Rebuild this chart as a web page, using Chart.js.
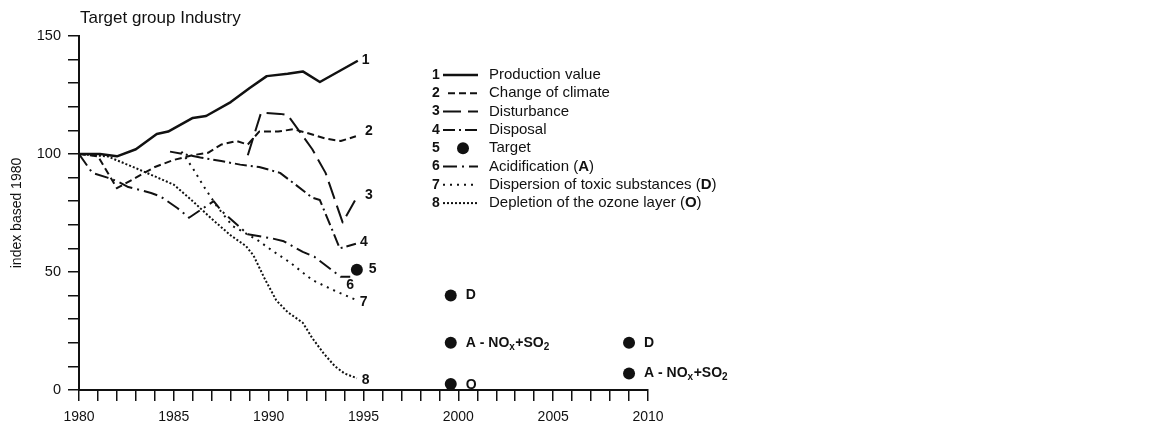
<!DOCTYPE html>
<html><head><meta charset="utf-8">
<script src="https://cdn.jsdelivr.net/npm/chart.js@4.4.1/dist/chart.umd.min.js"></script>
<style>html,body{margin:0;padding:0;background:#fff;}#wrap{width:1156px;height:436px;}</style>
</head><body><div id="wrap"><canvas id="c" width="1156" height="436"></canvas></div>
<script>
// ---------- data (year, index value) ----------
const chartTitle = 'Target group Industry';
const yAxisTitle = 'index based 1980';
const xTickLabels = [1980, 1985, 1990, 1995, 2000, 2005, 2010];
const yTickLabels = [0, 50, 100, 150];

const productionValue = [[1980,100],[1981.1,100],[1982,99],[1983,102],[1984.1,108.5],[1984.7,109.5],[1986,115.3],[1986.7,116.1],[1988,122],[1989,128],[1989.9,133],[1991,134],[1991.8,135],[1992.7,130.5],[1994.7,139.5]];
const changeOfClimate = [[1980,100],[1981,99],[1982,85.5],[1983,90],[1984,94.5],[1985,97.5],[1986,99.5],[1986.8,100.5],[1987.5,104],[1988.3,105.5],[1988.9,104],[1989.5,109.5],[1990.5,109.5],[1991.3,110.5],[1992,109],[1993,106.5],[1993.8,105.5],[1994.6,107.5]];
const disturbance = [[1988.9,99.5],[1989.6,117.5],[1990.6,117],[1991,116.5],[1991.5,111],[1992.3,102],[1993,92],[1993.9,71],[1994.6,81]];
const disposal = [[1984.8,101],[1985.5,100],[1986.4,98.5],[1987.5,97],[1988.5,95.5],[1989.5,94.5],[1990.6,92],[1991.5,86.5],[1992.3,81.5],[1992.7,80.5],[1993.75,60],[1994.6,62]];
const targets = [[1994.65,51],[1999.6,40],[1999.6,20],[1999.6,2.5],[2009,20],[2009,7]];
const targetNotes = ['', 'D', 'A - NO_x+SO_2', 'O', 'D', 'A - NO_x+SO_2'];
const acidification = [[1980,100],[1980.7,92],[1981.5,90],[1982,88.5],[1982.6,86],[1983.8,83.5],[1984.3,82],[1985.2,77],[1985.8,73],[1987.1,80],[1987.5,76],[1988.9,66],[1990.2,64.2],[1990.8,63],[1991.8,58.5],[1992.4,56.5],[1993.3,51],[1993.8,48],[1994.3,48]];
const dispersionToxic = [[1985.4,101],[1986,94],[1986.6,86],[1987.3,77.5],[1988.1,69.5],[1989.4,63.6],[1990.2,59],[1991.1,54.2],[1992.3,46.6],[1993.5,42],[1994.65,38]];
const ozoneDepletion = [[1980,100],[1981.5,99],[1983,94],[1984,90.5],[1985,87],[1986,80],[1987,72.5],[1988,65.5],[1988.8,61],[1989.2,57],[1989.8,47],[1990.4,38],[1991,33],[1991.8,28.5],[1992.3,22],[1992.9,15.5],[1993.5,10],[1994,7],[1994.65,5]];

const seriesNames = ['Production value','Change of climate','Disturbance','Disposal','Target','Acidification (*A*)','Dispersion of toxic substances (*D*)','Depletion of the ozone layer (*O*)'];

// ---------- styles ----------
const FONT = "'Liberation Sans', Arial, Helvetica, sans-serif";
const INK = '#111';
const dashes = [[], [7,4], [18,7], [12,4,2,4], null, [14,5,2,5], [2,5], [2,2]];
const widths = [2.5, 2, 2, 2, 0, 2, 2, 2];
const endLabelOffset = [[4,-1],[9,-5],[9,-4],[4,-2],[12,0],[-4,8],[3,2],[5,2]];

const pts = a => a.map(p => ({x:p[0], y:p[1]}));
const seriesData = [productionValue, changeOfClimate, disturbance, disposal, targets, acidification, dispersionToxic, ozoneDepletion];

const datasets = seriesData.map((d, i) => {
  if (i === 4) return {label:seriesNames[i], data:pts(d), showLine:false, pointRadius:6, pointBackgroundColor:INK, pointBorderWidth:0, borderColor:INK};
  return {label:seriesNames[i], data:pts(d), borderColor:INK, borderWidth:widths[i], borderDash:dashes[i], pointRadius:0, tension:0, fill:false, borderCapStyle:'butt', borderJoinStyle:'round'};
});

function drawRich(ctx, x, y, text, size, boldAll) {
  // *X* = bold, _x = subscript
  const parts = [];
  const re = /(\*[^*]+\*|_\w)/g; let last = 0, m;
  while ((m = re.exec(text))) {
    if (m.index > last) parts.push({t:text.slice(last, m.index)});
    if (m[0][0] === '*') parts.push({t:m[0].slice(1,-1), b:true}); else parts.push({t:m[0].slice(1), sub:true});
    last = re.lastIndex;
  }
  if (last < text.length) parts.push({t:text.slice(last)});
  let cx = x;
  parts.forEach(p => {
    const b = boldAll || p.b;
    const s = p.sub ? Math.round(size*0.7) : size;
    ctx.font = (b ? 'bold ' : '') + s + 'px ' + FONT;
    ctx.fillText(p.t, cx, p.sub ? y + size*0.3 : y);
    cx += ctx.measureText(p.t).width + (p.sub ? 0.5 : 0);
  });
}

const overlay = {
  id:'overlay',
  afterDatasetsDraw(chart) {
    const ctx = chart.ctx;
    ctx.save();
    ctx.fillStyle = INK; ctx.strokeStyle = INK;
    ctx.textBaseline = 'middle'; ctx.textAlign = 'left';
    ctx.font = '17px ' + FONT;
    ctx.fillText(chartTitle, 80, 18);
    // end labels
    datasets.forEach((ds, i) => {
      const meta = chart.getDatasetMeta(i);
      const el = i === 4 ? meta.data[0] : meta.data[meta.data.length - 1];
      ctx.font = 'bold 14px ' + FONT;
      ctx.fillText(String(i + 1), el.x + endLabelOffset[i][0], el.y + endLabelOffset[i][1]);
    });
    // target notes
    const tm = chart.getDatasetMeta(4);
    targetNotes.forEach((n, k) => {
      if (!n) return;
      const el = tm.data[k];
      drawRich(ctx, el.x + 15, el.y + (n === 'O' ? 1 : 0), n, 14, true);
    });
    // legend
    seriesNames.forEach((name, i) => {
      const y = 75 + i * 18.3;
      ctx.font = 'bold 14px ' + FONT;
      ctx.fillText(String(i + 1), 432, y);
      if (i === 4) {
        ctx.beginPath(); ctx.arc(463, y, 6, 0, Math.PI*2); ctx.fill();
      } else {
        ctx.beginPath();
        ctx.setLineDash(dashes[i]); ctx.lineWidth = widths[i];
        ctx.moveTo(i === 1 ? 448 : 443, y); ctx.lineTo(478, y); ctx.stroke();
        ctx.setLineDash([]);
      }
      drawRich(ctx, 489, y, name, 15, false);
    });
    ctx.restore();
  }
};

new Chart(document.getElementById('c'), {
  type:'line',
  data:{datasets},
  plugins:[overlay],
  options:{
    responsive:false, animation:false, devicePixelRatio:1,
    layout:{padding:{left:9, top:36, right:508, bottom:0}},
    plugins:{legend:{display:false}, title:{display:false}, tooltip:{enabled:false}},
    scales:{
      x:{type:'linear', min:1980, max:2010,
        ticks:{stepSize:1, autoSkip:false, maxRotation:0, callback:v => xTickLabels.includes(v) ? String(v) : '', font:{size:14, family:FONT}, color:INK, padding:8},
        grid:{drawOnChartArea:false, drawTicks:true, tickLength:11, color:INK, lineWidth:1.5},
        border:{display:true, color:INK, width:2},
        afterFit:s => { s.height = 46; }
      },
      y:{type:'linear', min:0, max:150,
        ticks:{stepSize:10, autoSkip:false, callback:v => yTickLabels.includes(v) ? String(v) : '', font:{size:14.5, family:FONT}, color:INK, padding:7},
        grid:{drawOnChartArea:false, drawTicks:true, tickLength:11, color:INK, lineWidth:1.5},
        border:{display:true, color:INK, width:2},
        title:{display:true, text:yAxisTitle, font:{size:14, family:FONT}, color:INK, padding:0},
        afterFit:s => { s.width = 70; }
      }
    }
  }
});
</script></body></html>
